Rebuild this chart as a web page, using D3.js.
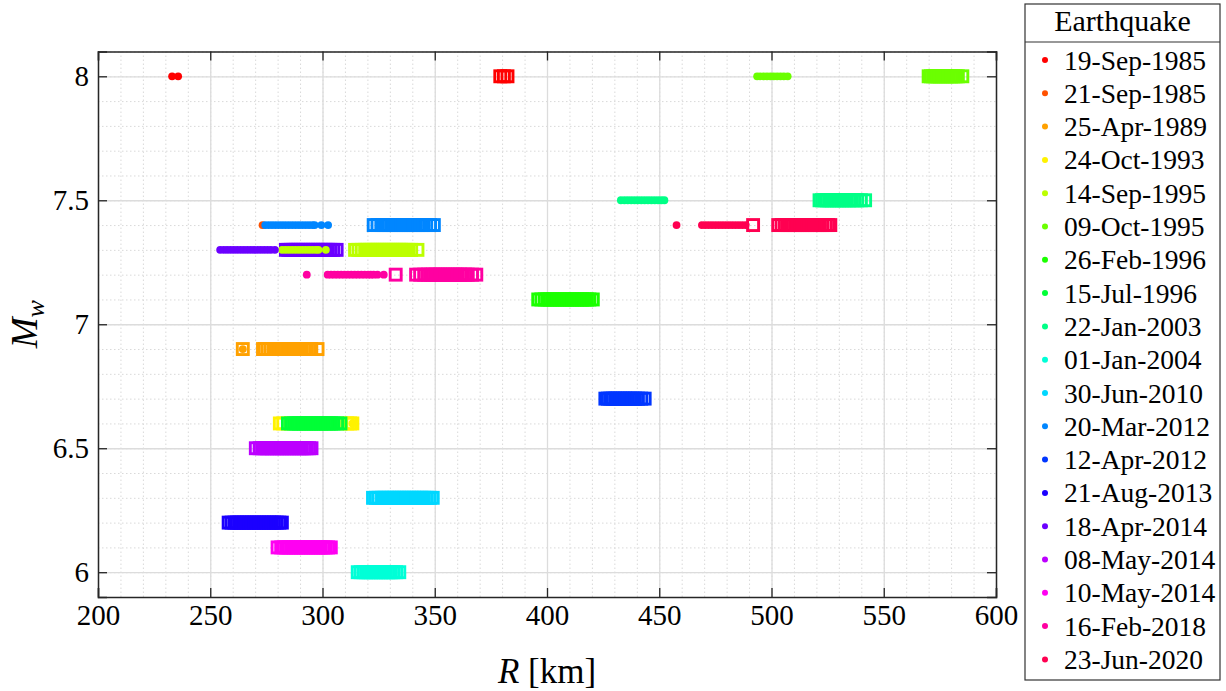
<!DOCTYPE html>
<html>
<head>
<meta charset="utf-8">
<script src="https://cdn.jsdelivr.net/npm/d3@7"></script>
<style>
  body { margin: 0; background: #fff; }
</style>
</head>
<body>
<div id="chart"></div>
<script>
// Earthquakes, in legend order
const quakes = ["19-Sep-1985", "21-Sep-1985", "25-Apr-1989", "24-Oct-1993", "14-Sep-1995",
  "09-Oct-1995", "26-Feb-1996", "15-Jul-1996", "22-Jan-2003", "01-Jan-2004", "30-Jun-2010",
  "20-Mar-2012", "12-Apr-2012", "21-Aug-2013", "18-Apr-2014", "08-May-2014", "10-May-2014",
  "16-Feb-2018", "23-Jun-2020"];

// moment magnitude of each earthquake
const mags = [8.0, 7.4, 6.9, 6.6, 7.3, 8.0, 7.1, 6.6, 7.5, 6.0, 6.3, 7.4, 6.7, 6.2, 7.3, 6.5, 6.1, 7.2, 7.4];

// R [km] of the circle markers
const circleR = [
  [233.0, 235.7],
  [273.3],
  [264.5],
  [313.3],
  [282.0, 283.5, 285.0, 286.5, 288.0, 289.5, 291.0, 292.5, 294.0, 295.5, 297.0, 298.2, 301.5],
  [493.6, 495.0, 496.5, 498.0, 499.5, 501.0, 502.5, 504.0, 505.5, 507.2],
  [],
  [],
  [432.9, 434.5, 436.0, 437.5, 439.0, 440.5, 442.0, 443.5, 445.0, 446.5, 448.0, 449.5, 451.0, 452.3],
  [],
  [],
  [274.5, 276.0, 277.5, 279.0, 280.5, 282.0, 283.5, 285.0, 286.5, 288.0, 289.5, 291.0, 292.5, 294.0, 295.5, 296.5, 299.5, 302.5],
  [],
  [],
  [254.4, 256.0, 257.5, 259.0, 260.5, 262.0, 263.5, 265.0, 266.5, 268.0, 269.5, 271.0, 272.5, 274.0, 275.5, 277.0, 278.8],
  [],
  [],
  [293.0, 302.3, 303.8, 305.3, 306.8, 308.3, 309.8, 311.3, 312.8, 314.3, 315.8, 317.3, 318.8, 320.3, 321.5, 322.8, 324.5, 327.3],
  [457.7, 469.0, 470.5, 472.0, 473.5, 475.0, 476.5, 478.0, 479.5, 481.0, 482.5, 484.0, 485.5, 487.0, 488.5]
];

// R [km] of the square markers
const squareR = [
  [379.2, 380.8, 382.4],
  [],
  [264.5, 273.5, 274.3, 275.6, 276.9, 278.2, 279.5, 280.8, 282.0, 283.1, 284.2, 285.3, 286.4, 287.5, 288.6, 289.7, 290.8, 291.9, 293.0, 294.1, 295.0, 297.8],
  [281.0, 282.5, 311.0, 312.3, 313.3],
  [314.5, 316.0, 317.5, 319.0, 320.0, 321.0, 322.0, 323.0, 324.0, 325.0, 326.0, 327.0, 328.0, 329.0, 330.0, 331.0, 332.0, 333.0, 334.0, 335.0, 336.0, 337.0, 338.2, 339.5, 342.3],
  [570.0, 571.0, 572.0, 573.0, 574.0, 575.0, 576.0, 577.0, 578.0, 579.0, 580.0, 581.0, 582.0, 583.0, 585.0],
  [396.1, 397.5, 399.0, 400.2, 401.3, 402.4, 403.5, 404.6, 405.7, 406.8, 407.9, 409.0, 410.1, 411.2, 412.3, 413.4, 414.5, 415.6, 416.7, 417.8, 418.9, 420.4],
  [284.6, 286.0, 287.3, 288.4, 289.5, 290.6, 291.7, 292.8, 293.9, 295.0, 296.1, 297.2, 298.3, 299.4, 300.5, 301.6, 302.7, 303.8, 304.9, 306.5, 308.0],
  [521.4, 522.5, 523.6, 524.7, 525.8, 526.9, 528.0, 529.1, 530.2, 531.3, 532.4, 533.5, 534.6, 535.7, 537.0, 538.2, 539.8, 541.7],
  [315.7, 317.0, 318.3, 319.4, 320.5, 321.6, 322.7, 323.8, 324.9, 326.0, 327.1, 328.2, 329.3, 330.4, 331.5, 332.8, 334.2],
  [322.5, 323.8, 325.0, 326.5, 327.6, 328.7, 329.8, 330.9, 332.0, 333.1, 334.2, 335.3, 336.4, 337.5, 338.6, 339.7, 340.8, 341.9, 343.0, 344.1, 345.2, 346.5, 347.8, 349.1],
  [322.8, 324.5, 326.2, 327.3, 328.4, 329.5, 330.6, 331.7, 332.8, 333.9, 335.0, 336.1, 337.2, 338.3, 339.4, 340.5, 341.6, 342.7, 343.8, 344.9, 346.2, 347.9, 349.6],
  [426.0, 427.1, 428.2, 429.3, 430.4, 431.5, 432.6, 433.7, 434.8, 435.9, 437.0, 438.1, 439.2, 440.5, 442.0, 443.5],
  [258.2, 259.5, 260.8, 261.9, 263.0, 264.1, 265.2, 266.3, 267.4, 268.5, 269.6, 270.7, 271.8, 272.9, 274.0, 275.1, 276.2, 277.3, 278.4, 279.6, 280.8, 281.9],
  [283.7, 284.8, 285.9, 287.0, 288.1, 289.2, 290.3, 291.4, 292.5, 293.6, 294.7, 295.8, 296.9, 298.0, 299.1, 300.2, 301.3, 302.4, 303.5, 304.8, 306.3],
  [270.3, 272.0, 273.1, 274.2, 275.3, 276.4, 277.5, 278.6, 279.7, 280.8, 281.9, 283.0, 284.1, 285.2, 286.3, 287.4, 288.5, 289.6, 290.7, 291.8, 292.9, 294.0, 295.1],
  [280.0, 281.6, 282.7, 283.8, 284.9, 286.0, 287.1, 288.2, 289.3, 290.4, 291.5, 292.6, 293.7, 294.8, 295.9, 297.0, 298.1, 299.2, 300.3, 301.4, 302.5, 303.7],
  [332.6, 341.7, 343.5, 345.3, 347.0, 348.1, 349.2, 350.3, 351.4, 352.5, 353.6, 354.7, 355.8, 356.9, 358.0, 359.1, 360.2, 361.3, 362.4, 363.5, 364.7, 366.6, 368.5],
  [491.8, 503.0, 504.5, 506.0, 507.2, 508.3, 509.4, 510.5, 511.6, 512.7, 513.8, 514.9, 516.0, 517.1, 518.2, 519.3, 520.4, 521.5, 522.6, 524.0, 525.2, 526.2]
];

const xTicks = [200, 250, 300, 350, 400, 450, 500, 550, 600];
const yTicks = [6, 6.5, 7, 7.5, 8];

var serif = "Liberation Serif";
var width = 1226, height = 691;
var margin = { top: 51.5, right: 230, bottom: 94, left: 98 };

var svg = d3.select("#chart").append("svg")
    .attr("width", width)
    .attr("height", height)
    .attr("font-family", serif);

var x = d3.scaleLinear().domain([200, 600]).range([margin.left, width - margin.right]);
var y = d3.scaleLinear().domain([5.9, 8.1]).range([height - margin.bottom, margin.top]);

var color = d3.scaleOrdinal()
    .domain(quakes)
    .range(quakes.map((d, i) => d3.hsl(i * 360 / quakes.length, 1, 0.5).formatHex()));

var plotH = y.range()[0] - y.range()[1];
var plotW = x.range()[1] - x.range()[0];

// minor grid (dotted)
svg.append("g")
    .attr("transform", "translate(0," + y.range()[0] + ")")
    .call(d3.axisBottom(x).ticks(40).tickSize(-plotH).tickFormat(""))
    .call(g => g.select(".domain").remove())
    .selectAll("line").attr("stroke", "#d9d9d9").attr("stroke-dasharray", "1.5,2.5").attr("stroke-width", 1);
svg.append("g")
    .attr("transform", "translate(" + x.range()[0] + ",0)")
    .call(d3.axisLeft(y).ticks(22).tickSize(-plotW).tickFormat(""))
    .call(g => g.select(".domain").remove())
    .selectAll("line").attr("stroke", "#d9d9d9").attr("stroke-dasharray", "1.5,2.5").attr("stroke-width", 1);

// major grid
svg.append("g")
    .attr("transform", "translate(0," + y.range()[0] + ")")
    .call(d3.axisBottom(x).tickValues(xTicks).tickSize(-plotH).tickFormat(""))
    .call(g => g.select(".domain").remove())
    .selectAll("line").attr("stroke", "#dcdcdc").attr("stroke-width", 1.3);
svg.append("g")
    .attr("transform", "translate(" + x.range()[0] + ",0)")
    .call(d3.axisLeft(y).tickValues(yTicks).tickSize(-plotW).tickFormat(""))
    .call(g => g.select(".domain").remove())
    .selectAll("line").attr("stroke", "#dcdcdc").attr("stroke-width", 1.3);

// squares first, then circles (circles sit on top)
var side = 11;
quakes.forEach((q, i) => {
    svg.append("g").selectAll("rect")
        .data(squareR[i])
        .enter().append("rect")
        .attr("x", d => x(d) - side / 2)
        .attr("y", y(mags[i]) - side / 2)
        .attr("width", side)
        .attr("height", side)
        .attr("fill", "none")
        .attr("stroke", color(q))
        .attr("stroke-width", 2.9);
});
quakes.forEach((q, i) => {
    svg.append("g").selectAll("circle")
        .data(circleR[i])
        .enter().append("circle")
        .attr("cx", d => x(d))
        .attr("cy", y(mags[i]))
        .attr("r", 3.9)
        .attr("fill", color(q));
});

// axes with inward ticks on all sides
var axisColor = "#262626";
var fmt = d => String(d);
var xb = svg.append("g")
    .attr("transform", "translate(0," + y.range()[0] + ")")
    .call(d3.axisBottom(x).tickValues(xTicks).tickSize(-9).tickFormat(fmt).tickPadding(7));
var xt = svg.append("g")
    .attr("transform", "translate(0," + y.range()[1] + ")")
    .call(d3.axisTop(x).tickValues(xTicks).tickSize(-9).tickFormat(""));
var yl = svg.append("g")
    .attr("transform", "translate(" + x.range()[0] + ",0)")
    .call(d3.axisLeft(y).tickValues(yTicks).tickSize(-9).tickFormat(fmt).tickPadding(9));
var yr = svg.append("g")
    .attr("transform", "translate(" + x.range()[1] + ",0)")
    .call(d3.axisRight(y).tickValues(yTicks).tickSize(-9).tickFormat(""));
[xb, xt, yl, yr].forEach(g => {
    g.attr("font-family", serif);
    g.select(".domain").attr("stroke", axisColor).attr("stroke-width", 1.5);
    g.selectAll(".tick line").attr("stroke", axisColor).attr("stroke-width", 1.3);
    g.selectAll("text").attr("font-family", serif).attr("font-size", 29).attr("fill", "#000");
});

// axis titles
svg.append("text")
    .attr("x", (x.range()[0] + x.range()[1]) / 2)
    .attr("y", 683)
    .attr("text-anchor", "middle")
    .attr("font-family", serif)
    .attr("font-size", 35)
    .html('<tspan font-style="italic">R</tspan> [km]');

svg.append("text")
    .attr("transform", "translate(37," + ((y.range()[0] + y.range()[1]) / 2) + ") rotate(-90)")
    .attr("text-anchor", "middle")
    .attr("font-family", serif)
    .attr("font-size", 37)
    .html('<tspan font-style="italic">M</tspan><tspan font-style="italic" font-size="26" dy="7">w</tspan>');

// legend
var lg = svg.append("g");
var lx0 = 1025, lx1 = 1220, ly0 = 4, ly1 = 680, lsep = 42;
lg.append("rect")
    .attr("x", lx0).attr("y", ly0)
    .attr("width", lx1 - lx0).attr("height", ly1 - ly0)
    .attr("fill", "#fff").attr("stroke", "#333").attr("stroke-width", 1.2);
lg.append("line")
    .attr("x1", lx0).attr("x2", lx1).attr("y1", lsep).attr("y2", lsep)
    .attr("stroke", "#333").attr("stroke-width", 1.2);
lg.append("text")
    .attr("x", (lx0 + lx1) / 2).attr("y", 31)
    .attr("text-anchor", "middle")
    .attr("font-family", serif)
    .attr("font-size", 30)
    .text("Earthquake");

var ly = d3.scalePoint().domain(quakes).range([60, 659.4]);
var items = lg.selectAll(".item").data(quakes).enter().append("g")
    .attr("transform", d => "translate(0," + ly(d) + ")");
items.append("circle")
    .attr("cx", 1045).attr("cy", 0).attr("r", 3)
    .attr("fill", d => color(d));
items.append("text")
    .attr("x", 1064).attr("y", 9.5)
    .attr("font-family", serif)
    .attr("font-size", 27.5)
    .text(d => d);
</script>
</body>
</html>
